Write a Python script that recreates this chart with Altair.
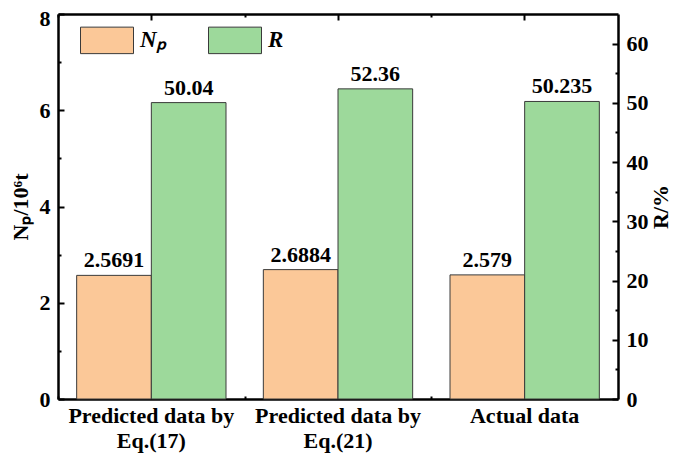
import altair as alt
import pandas as pd

categories = ["Predicted data by\nEq.(17)", "Predicted data by\nEq.(21)", "Actual data"]
np_values = [2.5691, 2.6884, 2.579]
r_values = [50.04, 52.36, 50.235]
series_names = ["Np", "R"]
colors = ["#FBC898", "#9DD99B"]
np_major = [0, 2, 4, 6, 8]
np_minor = [1, 3, 5, 7]
r_major = [0, 10, 20, 30, 40, 50, 60]
r_minor = [5, 15, 25, 35, 45, 55]

rows = []
for c, v in zip(categories, np_values):
    rows.append({"category": c, "series": "Np", "value": v, "label": str(v)})
for c, v in zip(categories, r_values):
    rows.append({"category": c, "series": "R", "value": v, "label": str(v)})
df = pd.DataFrame(rows)

FONT = "Liberation Serif, Times New Roman, serif"
W, H = 560, 385
STEP = W / 3.0

xscale = alt.Scale(domain=categories, paddingInner=0.2, paddingOuter=0.1)
xoff = alt.XOffset("series:N", scale=alt.Scale(domain=series_names, paddingInner=0, paddingOuter=0))

np_scale = alt.Scale(domain=[0, 8], nice=False, zero=True)
r_scale = alt.Scale(domain=[0, 65], nice=False, zero=True)

common_axis = dict(domainColor="black", domainWidth=2.5, tickColor="black", tickWidth=2,
                   labelFont=FONT, labelFontWeight="bold", labelColor="black", labelFontSize=22,
                   titleFont=FONT, titleFontWeight="bold", titleColor="black", titleFontSize=22,
                   grid=False)

base = alt.Chart(df)

np_bars = base.transform_filter("datum.series === 'Np'").mark_bar(stroke="#3a3a3a", strokeWidth=1).encode(
    x=alt.X("category:N", sort=categories, scale=xscale,
            axis=alt.Axis(orient="bottom", title=None, labelAngle=0,
                          labelExpr="split(datum.label, '\\n')", labelLineHeight=25,
                          labelPadding=12, tickSize={"expr": "-6"}, **common_axis)),
    xOffset=xoff,
    y=alt.Y("value:Q", scale=np_scale,
            axis=alt.Axis(orient="left", values=np_major, title="Nₚ/10⁶t", labelPadding=14,
                          labelOffset={"condition": {"test": "datum.value == 8", "value": 4}, "value": 0},
                          tickSize={"expr": "-6"}, titlePadding=7, **common_axis)),
    color=alt.Color("series:N", scale=alt.Scale(domain=series_names, range=colors),
                    legend=alt.Legend(orient="none", legendX=22, legendY=-1, direction="horizontal",
                                      title=None, symbolType="M-1,-0.5H1V0.5H-1Z", symbolSize=2809,
                                      symbolStrokeColor="#3a3a3a", symbolStrokeWidth=1,
                                      symbolOpacity=1,
                                      labelFont=FONT, labelFontSize=23, labelFontWeight="bold",
                                      labelFontStyle="italic", labelColor="black",
                                      labelOffset=6, columnPadding=40,
                                      labelExpr="datum.label == 'Np' ? 'Nₚ' : datum.label")),
)

r_bars = base.transform_filter("datum.series === 'R'").mark_bar(stroke="#3a3a3a", strokeWidth=1).encode(
    x=alt.X("category:N", sort=categories, scale=xscale,
            axis=alt.Axis(orient="top", title=None, labels=False, tickSize={"expr": "-6"}, **common_axis)),
    xOffset=xoff,
    y=alt.Y("value:Q", scale=r_scale,
            axis=alt.Axis(orient="right", values=r_major, title="R/%", labelPadding=14,
                          tickSize={"expr": "-6"}, titleAngle=270, titlePadding=24, **common_axis)),
    color=alt.Color("series:N", scale=alt.Scale(domain=series_names, range=colors)),
)

text_style = dict(baseline="bottom", dy=-3, font=FONT, fontSize=22, fontWeight="bold", color="black")

np_text = base.transform_filter("datum.series === 'Np'").mark_text(**text_style).encode(
    x=alt.X("category:N", sort=categories, scale=xscale,
            axis=alt.Axis(orient="bottom", title=None, labels=False, domain=False, bandPosition=0,
                          tickOffset=-0.1 * STEP, tickSize={"expr": "-3"}, **common_axis)),
    xOffset=xoff,
    y=alt.Y("value:Q", scale=np_scale,
            axis=alt.Axis(orient="left", values=np_minor, title=None, labels=False, domain=False,
                          tickSize={"expr": "-3"}, **common_axis)),
    text="label:N",
)

r_text = base.transform_filter("datum.series === 'R'").mark_text(**text_style).encode(
    x=alt.X("category:N", sort=categories, scale=xscale,
            axis=alt.Axis(orient="top", title=None, labels=False, domain=False, bandPosition=0,
                          tickOffset=-0.1 * STEP, tickSize={"expr": "-3"}, **common_axis)),
    xOffset=xoff,
    y=alt.Y("value:Q", scale=r_scale,
            axis=alt.Axis(orient="right", values=r_minor, title=None, labels=False, domain=False,
                          tickSize={"expr": "-3"}, **common_axis)),
    text="label:N",
)

chart = alt.layer(np_bars, r_bars, np_text, r_text).resolve_scale(
    y="independent"
).resolve_axis(
    x="independent", y="independent"
).properties(
    width=W, height=H, autosize="none",
    padding={"left": 50, "top": 6, "right": 59, "bottom": 58},
).configure_view(stroke=None)

chart.save("out.html", embed_options={"renderer": "svg", "actions": False})
